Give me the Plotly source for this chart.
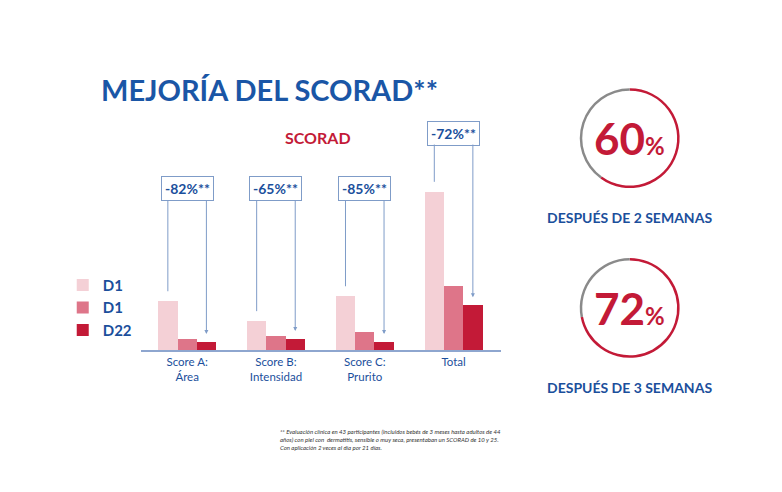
import plotly.graph_objects as go

categories = ['Score A:<br>Área', 'Score B:<br>Intensidad', 'Score C:<br>Prurito', 'Total']
d1_base = [49, 29, 54, 159]
d1 = [11, 14, 18, 64]
d22 = [8, 11, 8, 45]
reductions = ['-82%**', '-65%**', '-85%**', '-72%**']
gauge_values = [60, 72]
gauge_labels = ['DESPUÉS DE 2 SEMANAS', 'DESPUÉS DE 3 SEMANAS']

BLUE = '#1b4f9c'
LINE = '#7f9cc8'
colors = ['#f4d0d6', '#de7589', '#c31a37']
W = 0.217
xs = list(range(len(categories)))

fig = go.Figure()
for name, vals, col, off in [('D1', d1_base, colors[0], -W), ('D1 ', d1, colors[1], 0),
                              ('D22', d22, colors[2], W)]:
    fig.add_trace(go.Bar(x=[x + off for x in xs], y=vals, width=W, name=name,
                         marker=dict(color=col, line=dict(width=0))))

# reduction boxes with lines to D1 and arrows to D22
for i, lab in enumerate(reductions):
    box_y = 218 if i == 3 else 162
    top = box_y - 10
    fig.add_annotation(x=xs[i], y=box_y, text=f'<b>{lab}</b>', showarrow=False,
                       font=dict(size=14, color=BLUE, family='Lato'), bordercolor=LINE,
                       borderwidth=1, borderpad=3, bgcolor='white')
    fig.add_annotation(x=xs[i] - W, y=d1_base[i] + 10, ax=xs[i] - W, ay=top, axref='x', ayref='y',
                       showarrow=True, arrowhead=0, arrowwidth=1, arrowcolor=LINE, text='')
    fig.add_annotation(x=xs[i] + W, y=d22[i] + 8, ax=xs[i] + W, ay=top, axref='x', ayref='y',
                       showarrow=True, arrowhead=2, arrowsize=0.8, arrowwidth=1, arrowcolor=LINE, text='')

# gauges
domains = [[0.634, 0.837], [0.289, 0.492]]
for v, lab, dom in zip(gauge_values, gauge_labels, domains):
    fig.add_trace(go.Pie(values=[v, 100 - v], hole=0.95, sort=False, direction='clockwise',
                         rotation=0, marker=dict(colors=['#c31a37', '#8a8a8a'], line=dict(width=0)),
                         textinfo='none', hoverinfo='skip', showlegend=False,
                         domain=dict(x=[0.731, 0.859], y=dom)))
    cy = (dom[0] + dom[1]) / 2
    fig.add_annotation(x=0.795, y=cy, xref='paper', yref='paper', showarrow=False,
                       xanchor='center', yanchor='middle',
                       text=f"<b>{v}<span style='font-size:24px'>%</span></b>",
                       font=dict(size=44, color='#c31a37', family='Lato'))
    fig.add_annotation(x=0.795, y=dom[0] - 0.06, xref='paper', yref='paper', showarrow=False,
                       xanchor='center', yanchor='middle',
                       text=f'<b>{lab}</b>', font=dict(size=14, color=BLUE, family='Lato'))

fig.add_annotation(x=0.117, y=0.835, xref='paper', yref='paper', xanchor='left', yanchor='middle',
                   showarrow=False,
                   text='<b>MEJORÍA DEL SCORAD**</b>', font=dict(size=29, color='#1a56a6', family='Lato'))
fig.add_annotation(x=0.396, y=0.736, xref='paper', yref='paper', showarrow=False,
                   xanchor='center', yanchor='middle',
                   text='<b>SCORAD</b>', font=dict(size=16, color='#c31a37', family='Lato'))
fig.add_annotation(x=0.345, y=0.15, xref='paper', yref='paper', xanchor='left', yanchor='top',
                   showarrow=False, align='left',
                   text='<i>** Evaluación clínica en 43 participantes (incluidos bebés de 3 meses hasta adultos de 44<br>'
                        'años) con piel con  dermatitis, sensible o muy seca, presentaban un SCORAD de 10 y 25.<br>'
                        'Con aplicación 2 veces al día por 21 días.</i>',
                   font=dict(size=6, color='#333333', family='Lato'))

fig.update_layout(
    width=782, height=492, margin=dict(l=0, r=0, t=0, b=0),
    paper_bgcolor='white', plot_bgcolor='white', bargap=0,
    xaxis=dict(domain=[0.17, 0.63], range=[-0.52, 3.53], tickvals=xs, ticktext=categories,
               showgrid=False, zeroline=False, showline=True, linecolor='#8ea6cf', linewidth=2,
               tickfont=dict(size=11.5, color=BLUE, family='Lato'), ticks=''),
    yaxis=dict(domain=[0.305, 0.77], range=[0, 230], visible=False),
    legend=dict(x=0.07, y=0.47, xanchor='left', yanchor='top', itemwidth=30,
                font=dict(size=15, color=BLUE, family='Lato', weight='bold'), tracegroupgap=0),
    showlegend=True,
)

fig.write_html('out.html')
